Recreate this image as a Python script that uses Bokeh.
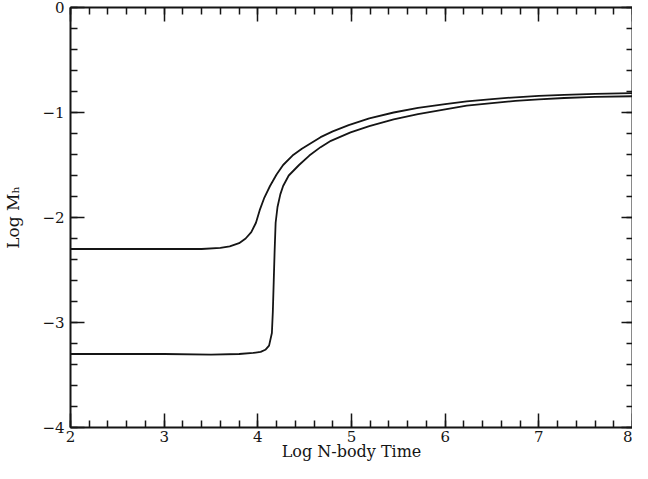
from bokeh.plotting import figure
from bokeh.models import Range1d, LinearAxis, SingleIntervalTicker
from bokeh.embed import file_html
from bokeh.resources import INLINE

# Upper curve (Log M_h vs Log N-body Time)
x_upper = [2.0, 2.5, 3.0, 3.4, 3.6, 3.7, 3.8, 3.87, 3.93, 3.98, 4.02, 4.07,
           4.13, 4.20, 4.27, 4.37, 4.47, 4.57, 4.67, 4.80, 4.97, 5.19, 5.45,
           5.71, 6.0, 6.23, 6.5, 6.75, 7.0, 7.27, 7.6, 8.0]
y_upper = [-2.30, -2.30, -2.30, -2.30, -2.29, -2.275, -2.245, -2.20, -2.14,
           -2.05, -1.93, -1.81, -1.70, -1.59, -1.50, -1.41, -1.345, -1.29,
           -1.235, -1.18, -1.12, -1.055, -1.00, -0.955, -0.92, -0.895, -0.872,
           -0.855, -0.842, -0.832, -0.823, -0.815]

# Lower curve
x_lower = [2.0, 3.0, 3.5, 3.8, 3.95, 4.03, 4.08, 4.12, 4.15, 4.16, 4.17, 4.18,
           4.19, 4.21, 4.24, 4.27, 4.33, 4.44, 4.55, 4.67, 4.78, 4.99, 5.19,
           5.45, 5.71, 6.0, 6.23, 6.5, 6.75, 7.0, 7.27, 7.6, 8.0]
y_lower = [-3.30, -3.30, -3.305, -3.30, -3.29, -3.28, -3.26, -3.22, -3.10,
           -2.90, -2.60, -2.30, -2.05, -1.90, -1.78, -1.70, -1.60, -1.50, -1.41,
           -1.33, -1.27, -1.19, -1.13, -1.065, -1.015, -0.97, -0.935, -0.91,
           -0.89, -0.875, -0.862, -0.852, -0.845]

x_ticks = [2, 3, 4, 5, 6, 7, 8]
x_tick_labels = ["2", "3", "4", "5", "6", "7", "8"]
y_ticks = [0, -1, -2, -3, -4]
y_tick_labels = ["0", "\u22121", "\u22122", "\u22123", "\u22124"]

x_label = "Log N-body Time"
y_label = "Log M\u2095"

FONT = "DejaVu Serif"
INK = "#151515"

p = figure(width=632, height=463,
           x_range=Range1d(x_ticks[0], x_ticks[-1]),
           y_range=Range1d(y_ticks[-1], y_ticks[0]),
           output_backend="svg", toolbar_location=None,
           x_axis_location=None, y_axis_location=None,
           min_border_left=63, min_border_right=0,
           min_border_top=7, min_border_bottom=0,
           background_fill_color="white", border_fill_color="white")
p.outline_line_color = None
p.grid.grid_line_color = None


def style(ax, show_labels):
    ax.ticker = SingleIntervalTicker(interval=1, num_minor_ticks=5)
    ax.axis_line_width = 2
    ax.axis_line_color = INK
    ax.major_tick_in = 14
    ax.major_tick_out = 0
    ax.minor_tick_in = 7
    ax.minor_tick_out = 0
    ax.major_tick_line_width = 1.5
    ax.minor_tick_line_width = 1.5
    ax.major_tick_line_color = INK
    ax.minor_tick_line_color = INK
    ax.major_label_text_font = FONT
    ax.major_label_text_color = INK
    ax.axis_label_text_font = FONT
    ax.axis_label_text_font_style = "normal"
    ax.axis_label_text_color = INK
    if not show_labels:
        ax.major_label_text_color = None
        ax.major_label_text_font_size = "1px"
        ax.major_label_standoff = 0


bottom = LinearAxis(axis_label=x_label)
style(bottom, True)
bottom.major_label_overrides = {t: s for t, s in zip(x_ticks, x_tick_labels)}
bottom.major_label_text_font_size = "15px"
bottom.axis_label_text_font_size = "16px"
bottom.major_label_standoff = 3
bottom.axis_label_standoff = -3
p.add_layout(bottom, "below")

left = LinearAxis(axis_label=y_label)
style(left, True)
left.major_label_overrides = {t: s for t, s in zip(y_ticks, y_tick_labels)}
left.major_label_text_font_size = "15px"
left.axis_label_text_font_size = "17px"
left.major_label_standoff = 6
left.axis_label_standoff = 16
p.add_layout(left, "left")

top = LinearAxis()
style(top, False)
p.add_layout(top, "above")

right = LinearAxis()
style(right, False)
right.major_tick_in = 11
right.minor_tick_in = 6
p.add_layout(right, "right")

p.line(x_upper, y_upper, line_width=1.8, line_color=INK)
p.line(x_lower, y_lower, line_width=1.8, line_color=INK)

open("out.html", "w").write(file_html(p, INLINE))
